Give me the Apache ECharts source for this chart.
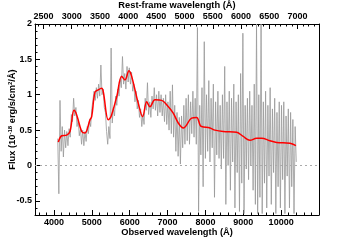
<!DOCTYPE html>
<html><head><meta charset="utf-8">
<script src="https://cdn.jsdelivr.net/npm/echarts@6/dist/echarts.min.js"></script>
<style>html,body{margin:0;padding:0;background:#fff}#c{width:355px;height:240px}</style>
</head><body><div id="c"></div>
<script>
// ---- data ----
const redshiftFactor = 1.49; // observed = rest * (1+z)
const obsRange = [3500, 11000];
const fluxRange = [-0.7, 2];
const obsMajorTicks = [4000, 5000, 6000, 7000, 8000, 9000, 10000];
const restMajorTicks = [2500, 3000, 3500, 4000, 4500, 5000, 5500, 6000, 6500, 7000];
const fluxMajorTicks = [-0.5, 0, 0.5, 1, 1.5, 2];
const obsMinorStep = 200, restMinorStep = 100, fluxMinorStep = 0.1;

// observed spectrum (grey), sampled every 30 Å from 4100 Å
const grayStart = 4100, grayStep = 30;
const grayFlux = [
 0.38,-0.40,0.92,0.20,0.55,0.12,0.50,0.25,0.48,0.28,
 0.52,0.40,0.72,0.62,0.95,0.70,0.82,0.55,0.65,0.42,
 0.52,0.30,0.50,0.28,0.48,0.34,0.55,0.45,0.65,0.55,
 0.80,0.82,1.05,0.92,1.10,0.95,1.15,0.98,1.42,1.00,
 1.08,0.82,0.75,0.48,0.30,0.55,0.38,1.66,0.60,0.82,
 0.70,0.98,0.85,1.08,0.98,1.22,1.10,1.54,1.15,1.30,
 1.08,1.40,1.18,1.38,1.15,1.32,1.05,1.15,0.90,1.05,
 0.80,0.92,0.68,0.80,0.55,0.72,0.58,0.95,0.78,1.17,
 0.72,0.90,0.68,0.98,0.80,1.10,0.78,1.00,0.70,1.05,
 0.75,1.00,0.70,0.95,0.62,1.00,0.58,0.90,0.50,1.05,
 0.45,1.14,0.40,0.85,0.20,0.75,0.13,0.68,0.02,0.70,
 0.25,0.85,0.30,0.95,0.35,1.00,0.30,0.90,0.45,1.05,
 0.40,0.95,0.30,1.95,-0.65,0.85,0.15,1.10,-0.30,1.75,
 0.10,1.00,0.20,1.20,0.05,0.95,0.25,1.15,-0.45,0.90,
 0.15,1.05,0.10,0.85,-0.05,1.00,0.10,1.40,-0.55,0.90,
 0.00,1.05,-0.35,0.95,0.05,1.15,-0.60,0.90,-0.10,1.00,
 -0.65,1.30,-0.25,1.87,-0.68,0.85,-0.05,0.95,-0.20,1.05,
 0.00,0.85,-0.35,1.15,-0.55,2.00,-0.68,1.00,-0.45,2.00,
 -0.68,0.90,-0.25,1.05,-0.60,0.85,-0.15,1.10,-0.55,0.80,
 -0.10,0.95,-0.68,0.75,-0.30,0.90,-0.60,0.85,-0.20,0.90,
 -0.68,0.70,-0.15,0.80,-0.60,0.75,-0.30,0.65,-0.68,0.55,
 0.05
];

// smoothed spectrum (red)
const redWave = [4115,4205,4337,4424,4530,4601,4733,4820,4952,4997,5084,5171,5261,5303,5435,5506,5657,5789,5876,5982,6053,6227,6343,6449,6536,6668,6845,6977,7151,7283,7415,7637,7769,7856,7900,8120,8252,8471,8825,8999,9176,9353,9485,9704,9881,10232,10390];
const redFlux = [0.33,0.42,0.43,0.48,0.78,0.715,0.48,0.46,0.645,0.69,1.036,1.07,1.09,1.045,0.645,0.69,0.97,1.26,1.21,1.34,1.26,0.88,0.69,0.9,0.83,0.93,0.92,0.86,0.74,0.6,0.53,0.67,0.68,0.575,0.55,0.53,0.5,0.48,0.47,0.41,0.355,0.385,0.385,0.35,0.325,0.315,0.28];

// ---- build ----
function stepList(a, b, s) { const out = []; for (let v = a; v <= b + 1e-9; v += s) out.push(+v.toFixed(4)); return out; }
const obsMinor = stepList(Math.ceil(obsRange[0] / obsMinorStep) * obsMinorStep, obsRange[1], obsMinorStep);
const restRange = [obsRange[0] / redshiftFactor, obsRange[1] / redshiftFactor];
const restMinor = stepList(Math.ceil(restRange[0] / restMinorStep) * restMinorStep, restRange[1], restMinorStep);
const fluxMinor = stepList(fluxRange[0], fluxRange[1], fluxMinorStep);

const grayData = grayFlux.map((f, i) => [grayStart + i * grayStep, f]);
const redData = redWave.map((w, i) => [w, redFlux[i]]);

const FONT = 'Liberation Sans';
const lbl = { color: '#000', fontFamily: FONT, fontWeight: 'bold', fontSize: 9 };
const line = { show: true, onZero: false, lineStyle: { color: '#000', width: 1 } };
const noLine = { show: false, onZero: false };

function xAx(pos, range, major, minor, name, gap, isMajor) {
  return {
    type: 'value', position: pos, min: range[0], max: range[1], gridIndex: 0,
    axisLine: isMajor ? line : noLine,
    splitLine: { show: false },
    axisTick: { show: true, inside: true, length: isMajor ? 5 : 2.5, customValues: isMajor ? major : minor, lineStyle: { color: '#000', width: 1 } },
    axisLabel: isMajor ? Object.assign({ show: true, margin: 3, customValues: major, formatter: v => String(v) }, lbl) : { show: false },
    name: isMajor ? name : '', nameLocation: 'middle', nameGap: gap, nameMoveOverlap: false,
    nameTextStyle: { color: '#000', fontFamily: FONT, fontWeight: 'bold', fontSize: 9.3 }
  };
}

const chart = echarts.init(document.getElementById('c'), null, { renderer: 'canvas' });
chart.setOption({
  animation: false,
  grid: { left: 35, right: 36, top: 24, bottom: 25, containLabel: false, outerBoundsMode: 'none' },
  xAxis: [
    xAx('bottom', obsRange, obsMajorTicks, obsMinor, 'Observed wavelength (Å)', 13, true),
    xAx('bottom', obsRange, obsMajorTicks, obsMinor, '', 13, false),
    xAx('top', restRange, restMajorTicks, restMinor, 'Rest-frame wavelength (Å)', 14, true),
    xAx('top', restRange, restMajorTicks, restMinor, '', 14, false)
  ],
  yAxis: [
    {
      type: 'value', position: 'left', min: fluxRange[0], max: fluxRange[1],
      axisLine: line, splitLine: { show: false },
      axisTick: { show: true, inside: true, length: 5, customValues: fluxMajorTicks, lineStyle: { color: '#000' } },
      axisLabel: Object.assign({ show: true, margin: 3, customValues: fluxMajorTicks, formatter: v => String(v) }, lbl),
      name: '{a|Flux (10}{s|-18}{a| erg/s/cm}{s|2}{a|/Å)}', nameLocation: 'middle', nameGap: 18, nameRotate: 90, nameMoveOverlap: false,
      nameTextStyle: { rich: {
        a: { color: '#000', fontFamily: FONT, fontWeight: 'bold', fontSize: 9.3 },
        s: { color: '#000', fontFamily: FONT, fontWeight: 'bold', fontSize: 6, verticalAlign: 'top', padding: [0, 0, 4, 0] }
      } }
    },
    {
      type: 'value', position: 'left', min: fluxRange[0], max: fluxRange[1],
      axisLine: noLine, splitLine: { show: false },
      axisTick: { show: true, inside: true, length: 2.5, customValues: fluxMinor, lineStyle: { color: '#000' } },
      axisLabel: { show: false }
    },
    {
      type: 'value', position: 'right', min: fluxRange[0], max: fluxRange[1],
      axisLine: line, splitLine: { show: false }, axisTick: { show: false }, axisLabel: { show: false }
    }
  ],
  series: [
    {
      type: 'line', xAxisIndex: 0, yAxisIndex: 0, data: grayData, showSymbol: false, symbol: 'none',
      lineStyle: { color: '#999999', width: 1, opacity: 0.8 }, z: 2, silent: true,
      markLine: { silent: true, symbol: 'none', label: { show: false },
        lineStyle: { color: '#aaaaaa', type: [2, 3], width: 1 }, data: [{ yAxis: 0 }] }
    },
    {
      type: 'line', xAxisIndex: 0, yAxisIndex: 0, data: redData, showSymbol: false, symbol: 'none', smooth: 0.35,
      lineStyle: { color: '#ff0000', width: 1.5 }, z: 3, silent: true
    }
  ]
});
</script></body></html>
